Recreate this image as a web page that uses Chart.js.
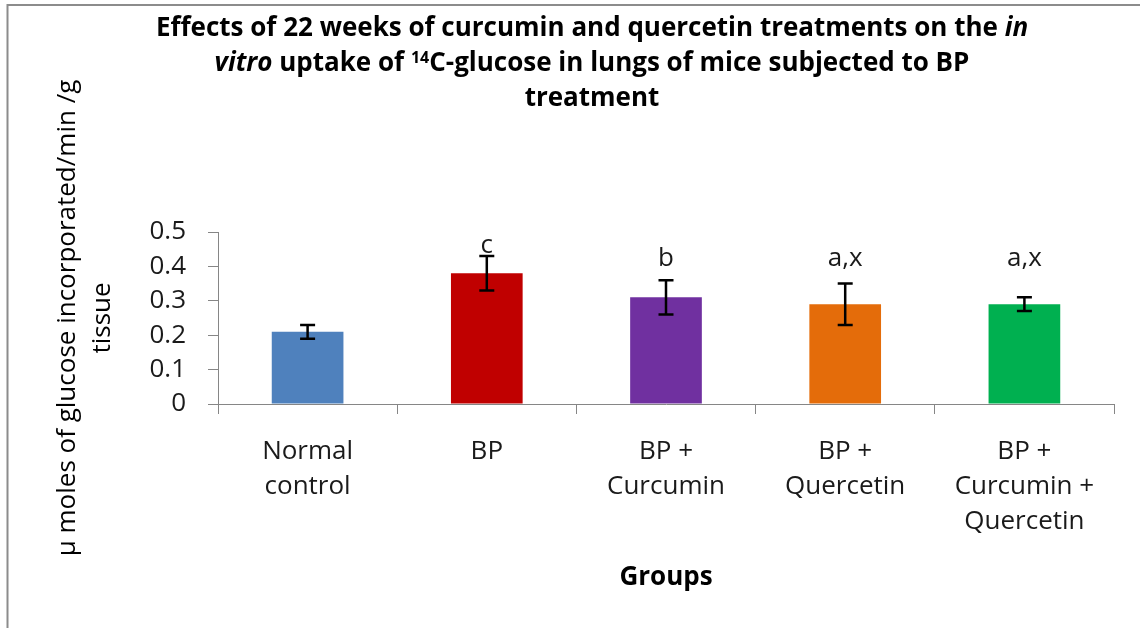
<!DOCTYPE html>
<html>
<head>
<meta charset="utf-8">
<script src="https://cdn.jsdelivr.net/npm/chart.js@4.4.1/dist/chart.umd.min.js"></script>
<style>
  html, body { margin: 0; padding: 0; background: #fff; }
  #wrap { position: relative; width: 1140px; height: 628px; }
</style>
</head>
<body>
<div id="wrap"><canvas id="uptakeChart" width="1140" height="628"></canvas></div>
<script>
// values (mean and error bar half-length)
const groups = [['Normal', 'control'], 'BP', ['BP +', 'Curcumin'], ['BP +', 'Quercetin'], ['BP +', 'Curcumin +', 'Quercetin']];
const meanUptake = [0.21, 0.38, 0.31, 0.29, 0.29];
const errorUptake = [0.02, 0.05, 0.05, 0.06, 0.02];
const sigLetters = ['', 'c', 'b', 'a,x', 'a,x'];
const barColors = ['#4F81BD', '#C00000', '#7030A0', '#E46C0A', '#00B050'];

const FONT = "'Open Sans', 'Noto Sans', sans-serif";

// title pieces, some of them italic or superscript
const titleLines = [
  [{ t: 'Effects of 22 weeks of curcumin and quercetin treatments on the ' }, { t: 'in', i: true }],
  [{ t: 'vitro', i: true }, { t: ' uptake of ' }, { t: '14', sup: true }, { t: 'C-glucose in lungs of mice subjected to BP' }],
  [{ t: 'treatment' }]
];

const backgroundAndFrame = {
  id: 'backgroundAndFrame',
  beforeDraw(chart) {
    const ctx = chart.ctx;
    ctx.save();
    ctx.fillStyle = '#fff';
    ctx.fillRect(0, 0, chart.width, chart.height);
    ctx.strokeStyle = '#8c8c8c';
    ctx.lineWidth = 2;
    ctx.beginPath();
    ctx.moveTo(7.5, chart.height);
    ctx.lineTo(7.5, 5);
    ctx.lineTo(chart.width, 5);
    ctx.stroke();
    ctx.restore();
  }
};

const richTitle = {
  id: 'richTitle',
  afterDraw(chart) {
    const ctx = chart.ctx;
    const size = 26;
    const cx = 592;
    const ys = [29, 64, 99];
    ctx.save();
    ctx.fillStyle = '#000';
    ctx.textBaseline = 'middle';
    ctx.textAlign = 'left';
    const fontFor = p => (p.i ? 'italic ' : '') + 'bold ' + (p.sup ? Math.round(size * 0.62) : size) + 'px ' + FONT;
    titleLines.forEach((line, li) => {
      let w = 0;
      line.forEach(p => { ctx.font = fontFor(p); w += ctx.measureText(p.t).width; });
      let x = cx - w / 2;
      line.forEach(p => {
        ctx.font = fontFor(p);
        ctx.fillText(p.t, x, p.sup ? ys[li] - 6 : ys[li]);
        x += ctx.measureText(p.t).width;
      });
    });
    ctx.restore();
  }
};

const errorBarsAndLetters = {
  id: 'errorBarsAndLetters',
  afterDatasetsDraw(chart) {
    const ctx = chart.ctx;
    const yScale = chart.scales.y;
    const meta = chart.getDatasetMeta(0);
    ctx.save();
    ctx.strokeStyle = '#000';
    ctx.lineWidth = 2.5;
    meta.data.forEach((bar, i) => {
      const top = yScale.getPixelForValue(meanUptake[i] + errorUptake[i]);
      const bot = yScale.getPixelForValue(meanUptake[i] - errorUptake[i]);
      ctx.beginPath();
      ctx.moveTo(bar.x, top); ctx.lineTo(bar.x, bot);
      ctx.moveTo(bar.x - 7.5, top); ctx.lineTo(bar.x + 7.5, top);
      ctx.moveTo(bar.x - 7.5, bot); ctx.lineTo(bar.x + 7.5, bot);
      ctx.stroke();
      if (sigLetters[i]) {
        ctx.fillStyle = '#1a1a1a';
        ctx.font = '26px ' + FONT;
        ctx.textAlign = 'center';
        ctx.textBaseline = 'alphabetic';
        const y = Math.min(top - 3, yScale.getPixelForValue(0.4));
        ctx.fillText(sigLetters[i], bar.x, y);
      }
    });
    ctx.restore();
  }
};

const ctx = document.getElementById('uptakeChart').getContext('2d');
new Chart(ctx, {
  type: 'bar',
  data: {
    labels: groups,
    datasets: [{
      data: meanUptake,
      backgroundColor: barColors,
      borderWidth: 0,
      barPercentage: 0.4,
      categoryPercentage: 1
    }]
  },
  options: {
    responsive: false,
    animation: false,
    layout: { padding: { top: 232, right: 26, left: 0, bottom: 0 } },
    plugins: { legend: { display: false }, tooltip: { enabled: false }, title: { display: false } },
    scales: {
      x: {
        afterFit: s => { s.height = 224; },
        grid: { drawOnChartArea: false, tickLength: 10, color: '#868686', offset: true },
        border: { color: '#868686', width: 1 },
        ticks: { color: '#1a1a1a', padding: 20, font: { family: FONT, size: 26, lineHeight: 1.35 }, maxRotation: 0, autoSkip: false },
        title: { display: true, text: 'Groups', color: '#000', font: { family: FONT, size: 26, weight: 'bold', lineHeight: 1.2 }, padding: { top: 0, bottom: 35 } }
      },
      y: {
        min: 0,
        max: 0.5,
        afterFit: s => { s.width = 218; },
        grid: { drawOnChartArea: false, tickLength: 10, color: '#868686' },
        border: { color: '#868686', width: 1 },
        ticks: { stepSize: 0.1, color: '#1a1a1a', padding: 22, font: { family: FONT, size: 26 } },
        title: { display: true, text: ['\u03bc moles of glucose incorporated/min /g', 'tissue'], color: '#000', font: { family: FONT, size: 26, lineHeight: 1.35 }, padding: { top: 50, bottom: 0 } }
      }
    }
  },
  plugins: [backgroundAndFrame, richTitle, errorBarsAndLetters]
});
</script>
</body>
</html>
